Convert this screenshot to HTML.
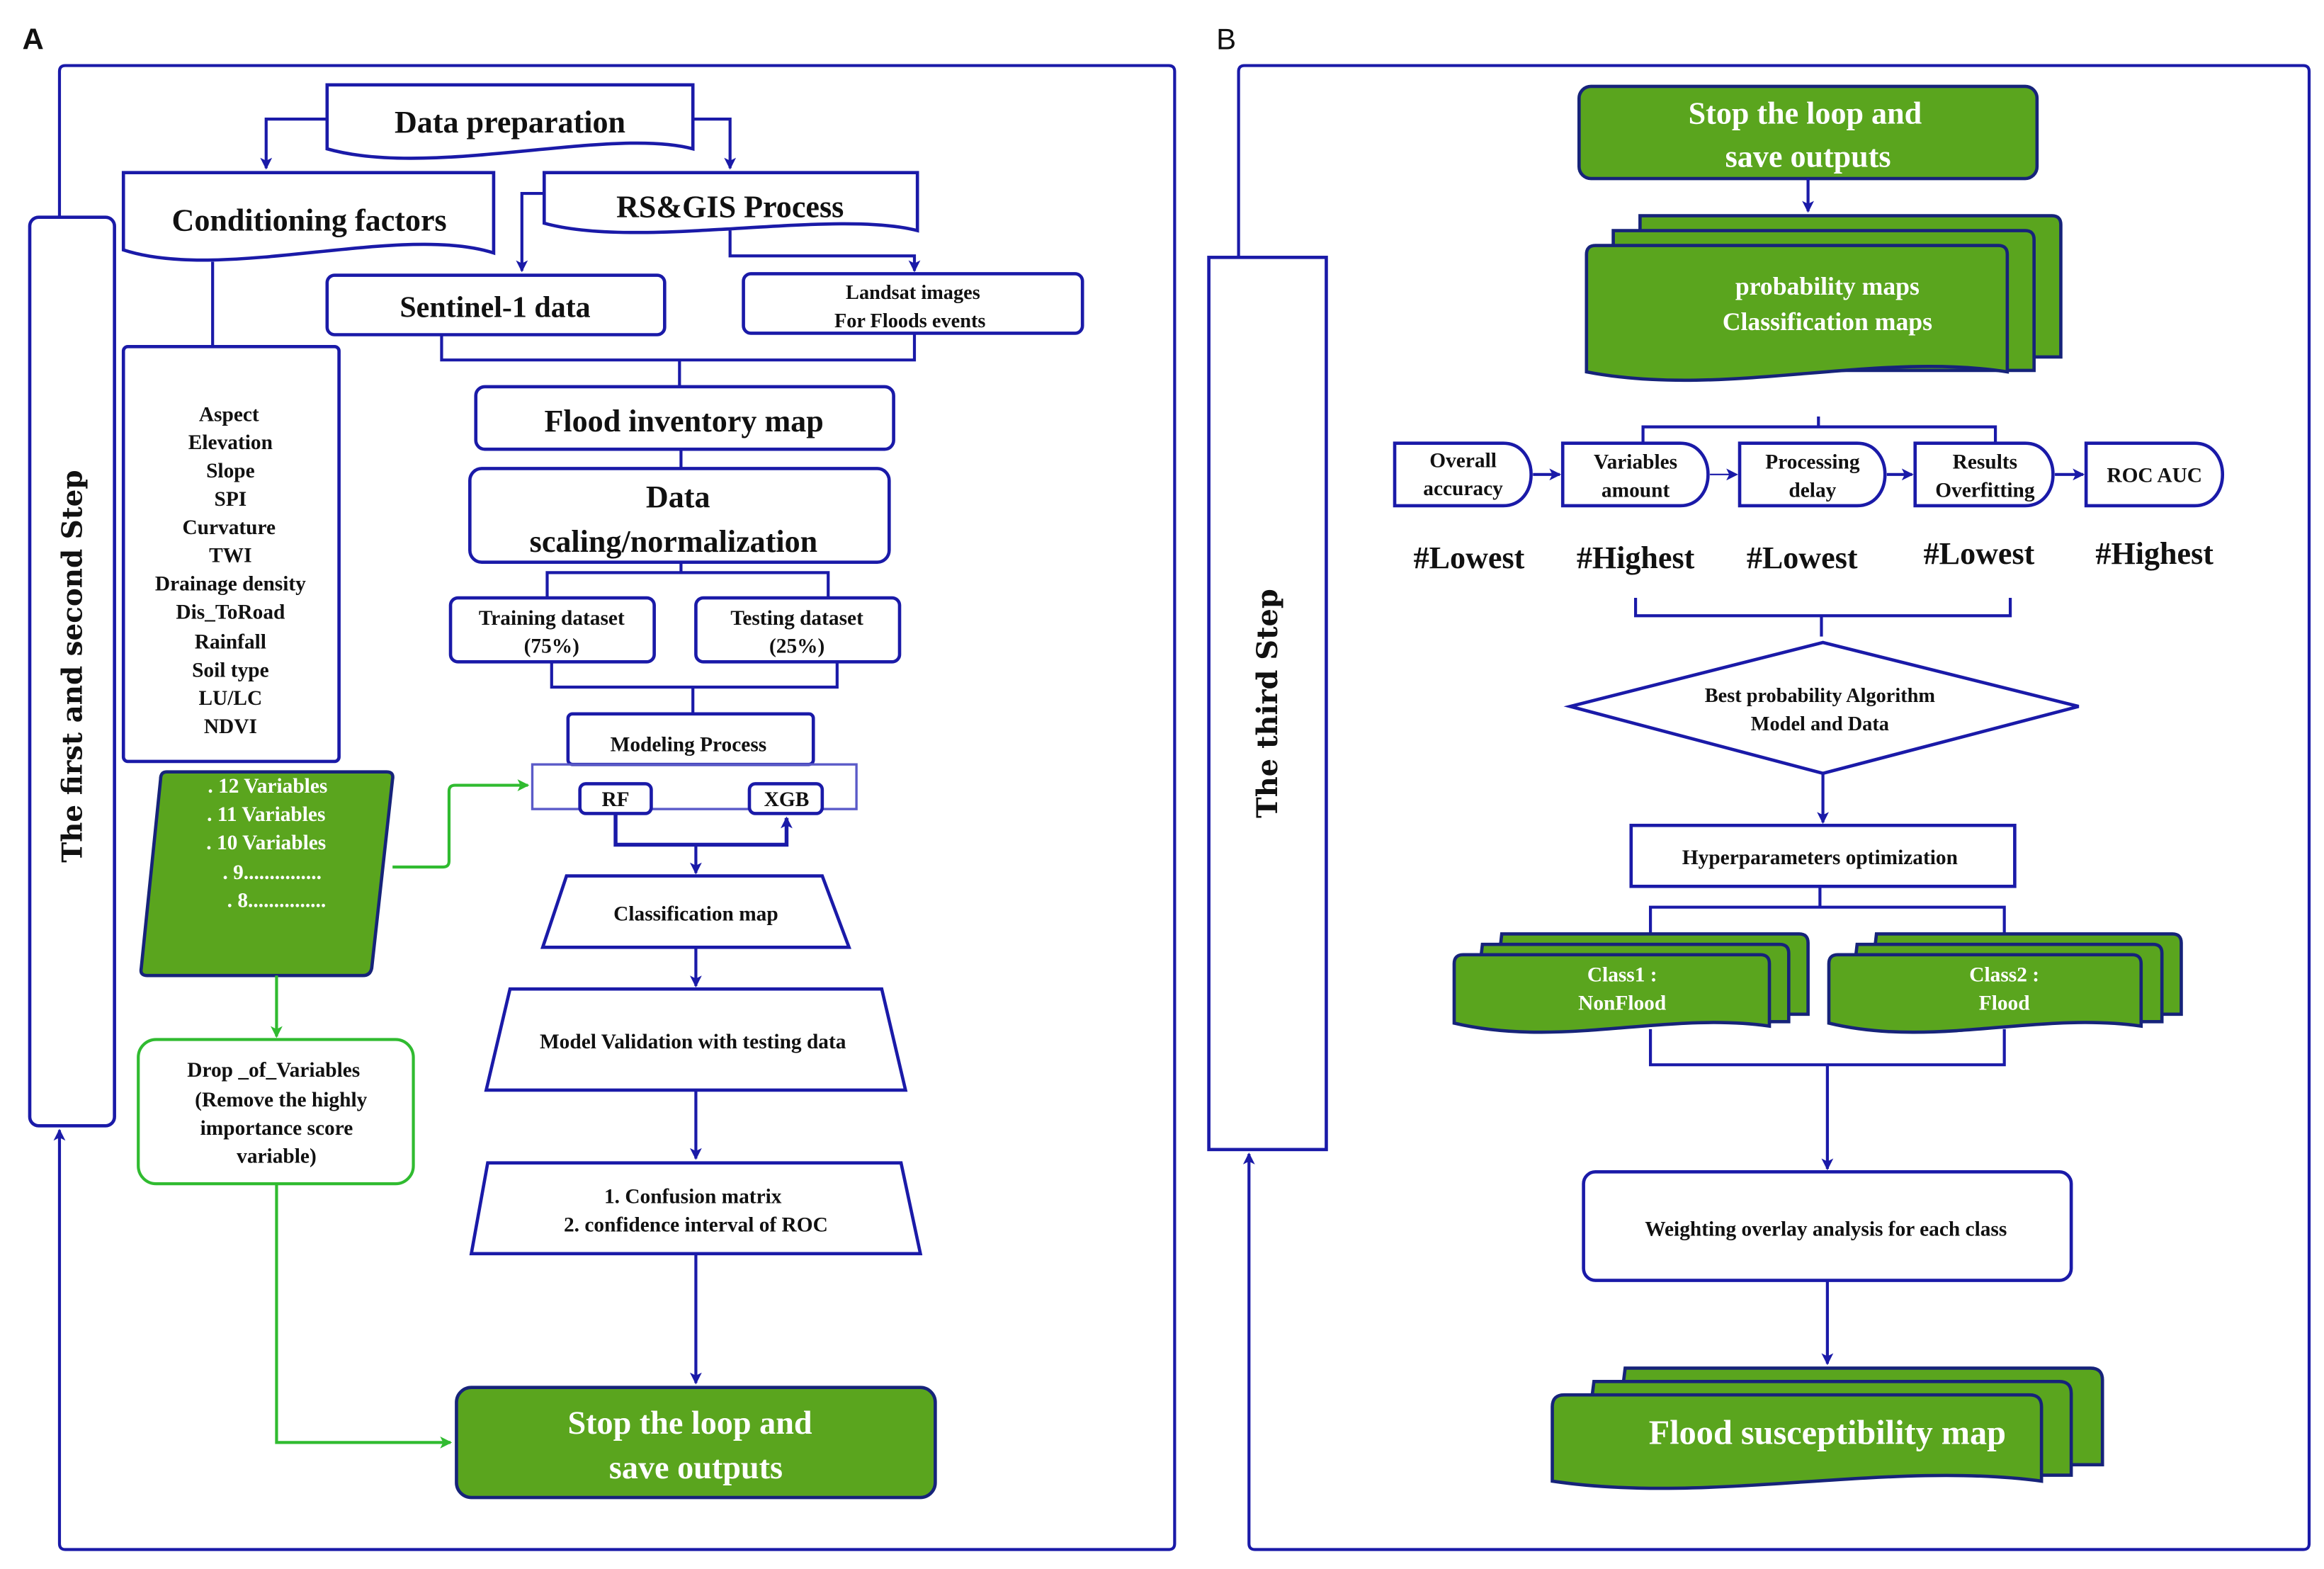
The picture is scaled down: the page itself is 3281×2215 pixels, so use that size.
<!DOCTYPE html>
<html><head><meta charset="utf-8"><style>
html,body{margin:0;padding:0;background:#fff}
svg{display:block}
text{font-family:"Liberation Serif",serif;font-weight:bold;fill:#111;text-anchor:middle}
.w{fill:#fff}
.b{fill:none;stroke:#1a1aa8;stroke-width:2}
.bf{fill:#fff;stroke:#1a1aa8;stroke-width:2.2}
.g{fill:#5aa51e;stroke:#16237a;stroke-width:2.2}
.gl{fill:none;stroke:#30bb30;stroke-width:2}
.s{font-family:"Liberation Sans",sans-serif;font-weight:normal;text-anchor:start}
</style></head><body>
<svg width="3281" height="2215" viewBox="0 0 1563 1055" xmlns="http://www.w3.org/2000/svg">
<defs>
<marker id="ab" markerWidth="8" markerHeight="8" refX="7" refY="4" orient="auto" markerUnits="userSpaceOnUse"><path d="M0,0 L8,4 L0,8 L2,4 Z" fill="#1a1aa8"/></marker>
<marker id="ag" markerWidth="8" markerHeight="8" refX="7" refY="4" orient="auto" markerUnits="userSpaceOnUse"><path d="M0,0 L8,4 L0,8 L2,4 Z" fill="#30bb30"/></marker>
</defs>
<text x="15" y="33" class="s" font-size="20" style="font-weight:bold">A</text>
<text x="818" y="33" class="s" font-size="20">B</text>

<!-- Panel A frame -->
<path class="b" d="M40,145 V48 Q40,44 44,44 H786 Q790,44 790,48 V1038 Q790,1042 786,1042 H44 Q40,1042 40,1038 V760" marker-end="url(#ab)"/>
<rect class="bf" x="20" y="146" width="57" height="611" rx="6"/>
<text transform="translate(55,448) rotate(-90)" font-size="18.5" style="font-family:'DejaVu Serif',serif">The first and second Step</text>

<!-- Data preparation -->
<path class="bf" d="M220,57 H466 V100 C410,85 290,120 220,100 Z"/>
<text x="343" y="89" font-size="21">Data preparation</text>
<path class="b" d="M220,80 H179 V113" marker-end="url(#ab)"/>
<path class="b" d="M466,80 H491 V113" marker-end="url(#ab)"/>
<path class="bf" d="M83,116 H332 V170 C270,150 150,190 83,168 Z"/>
<text x="208" y="155" font-size="21">Conditioning factors</text>
<path class="bf" d="M366,116 H617 V155 C560,140 430,168 366,150 Z"/>
<text x="491" y="146" font-size="21">RS&amp;GIS Process</text>
<path class="b" d="M366,130 H351 V182" marker-end="url(#ab)"/>
<path class="b" d="M491,155 V172 H615 V182" marker-end="url(#ab)"/>
<rect class="bf" x="220" y="185" width="227" height="40" rx="5"/>
<text x="333" y="213" font-size="20">Sentinel-1 data</text>
<rect class="bf" x="500" y="184" width="228" height="40" rx="5"/>
<text x="614" y="201" font-size="13.5">Landsat images</text>
<text x="612" y="220" font-size="13.5">For Floods events</text>
<path class="b" d="M297,225 V242 H615 V224 M457,242 V260"/>
<path class="b" d="M143,176 V233"/>
<rect class="bf" x="83" y="233" width="145" height="279" rx="3"/>
<g font-size="14">
<text x="154" y="283">Aspect</text><text x="155" y="302">Elevation</text><text x="155" y="321">Slope</text><text x="155" y="340">SPI</text><text x="154" y="359">Curvature</text><text x="155" y="378">TWI</text><text x="155" y="397">Drainage density</text><text x="155" y="416">Dis_ToRoad</text><text x="155" y="436">Rainfall</text><text x="155" y="455">Soil type</text><text x="155" y="474">LU/LC</text><text x="155" y="493">NDVI</text>
</g>
<rect class="bf" x="320" y="260" width="281" height="42" rx="6"/>
<text x="460" y="290" font-size="21">Flood inventory map</text>
<path class="b" d="M458,302 V315"/>
<rect class="bf" x="316" y="315" width="282" height="63" rx="8"/>
<text x="456" y="341" font-size="21">Data</text>
<text x="453" y="371" font-size="21">scaling/normalization</text>
<path class="b" d="M458,378 V385 M368,402 V385 H557 V402"/>
<rect class="bf" x="303" y="402" width="137" height="43" rx="5"/>
<text x="371" y="420" font-size="14">Training dataset</text><text x="371" y="439" font-size="14">(75%)</text>
<rect class="bf" x="468" y="402" width="137" height="43" rx="5"/>
<text x="536" y="420" font-size="14">Testing dataset</text><text x="536" y="439" font-size="14">(25%)</text>
<path class="b" d="M371,445 V462 H563 V445 M466,462 V480"/>
<rect class="bf" x="382" y="480" width="165" height="34" rx="3"/>
<text x="463" y="505" font-size="14">Modeling Process</text>
<rect x="358" y="514" width="218" height="30" fill="none" stroke="#5a5ac8" stroke-width="1.6"/>
<rect class="bf" x="390" y="527" width="48" height="20" rx="4"/>
<text x="414" y="542" font-size="14">RF</text>
<rect class="bf" x="504" y="527" width="49" height="20" rx="4"/>
<text x="529" y="542" font-size="14">XGB</text>
<path class="b" style="stroke-width:2.6" d="M414,547 V568 H529 V550" marker-end="url(#ab)"/>
<path class="b" d="M468,568 V587" marker-end="url(#ab)"/>
<path class="bf" d="M381,589 H553 L571,637 H365 Z"/>
<text x="468" y="619" font-size="14">Classification map</text>
<path class="b" d="M468,637 V663" marker-end="url(#ab)"/>
<path class="bf" d="M343,665 H593 L609,733 H327 Z"/>
<text x="466" y="705" font-size="14">Model Validation with testing data</text>
<path class="b" d="M468,733 V779" marker-end="url(#ab)"/>
<path class="bf" d="M328,782 H606 L619,843 H317 Z"/>
<text x="466" y="809" font-size="14">1. Confusion matrix</text>
<text x="468" y="828" font-size="14">2. confidence interval of ROC</text>
<path class="b" d="M468,843 V930" marker-end="url(#ab)"/>
<rect class="g" x="307" y="933" width="322" height="74" rx="10"/>
<text class="w" x="464" y="964" font-size="22">Stop the loop and</text>
<text class="w" x="468" y="994" font-size="22">save outputs</text>

<path class="g" d="M112,519 H260 Q265,519 264,524 L250,651 Q249,656 244,656 H99 Q94,656 95,651 L108,524 Q108,519 112,519 Z"/>
<g font-size="14">
<text class="w" x="180" y="533">. 12 Variables</text>
<text class="w" x="179" y="552">. 11 Variables</text>
<text class="w" x="179" y="571">. 10 Variables</text>
<text class="w" x="183" y="591">.    9...............</text>
<text class="w" x="186" y="610">.    8...............</text>
</g>
<path class="gl" d="M264,583 H298 Q302,583 302,579 V532 Q302,528 306,528 H355" marker-end="url(#ag)"/>
<path class="gl" d="M186,656 V697" marker-end="url(#ag)"/>
<rect x="93" y="699" width="185" height="97" rx="12" fill="#fff" stroke="#30bb30" stroke-width="2"/>
<g font-size="14"><text x="184" y="724">Drop _of_Variables</text><text x="189" y="744">(Remove the highly</text><text x="186" y="763">importance score</text><text x="186" y="782">variable)</text></g>
<path class="gl" d="M186,796 V970 H303" marker-end="url(#ag)"/>

<!-- Panel B frame -->
<path class="b" d="M833,173 V48 Q833,44 837,44 H1549 Q1553,44 1553,48 V1038 Q1553,1042 1549,1042 H844 Q840,1042 840,1038 V776" marker-end="url(#ab)"/>
<rect class="bf" x="813" y="173" width="79" height="600"/>
<text transform="translate(859,473) rotate(-90)" font-size="19" style="font-family:'DejaVu Serif',serif">The third Step</text>

<rect class="g" x="1062" y="58" width="308" height="62" rx="8"/>
<text class="w" x="1214" y="83" font-size="21">Stop the loop and</text>
<text class="w" x="1216" y="112" font-size="21">save outputs</text>
<path class="b" d="M1216,120 V142" marker-end="url(#ab)"/>
<path class="g" d="M1103,145 H1380 Q1386,145 1386,151 V240 H1103 Z"/>
<path class="g" d="M1085,155 H1362 Q1368,155 1368,161 V249 H1085 Z"/>
<path class="g" d="M1073,165 H1344 Q1350,165 1350,171 V250 C1260,236 1160,268 1067,250 V171 Q1067,165 1073,165 Z"/>
<text class="w" x="1229" y="198" font-size="17">probability maps</text>
<text class="w" x="1229" y="222" font-size="17">Classification maps</text>

<path class="b" d="M1105,298 V287 H1342 V298 M1223,287 V280"/>
<g font-size="14">
<path class="bf" d="M938,298 H1011 C1036,298 1036,340 1011,340 H938 Z"/>
<text x="984" y="314">Overall</text><text x="984" y="333">accuracy</text>
<path class="b" d="M1031,319 H1049" marker-end="url(#ab)"/>
<path class="bf" d="M1051,298 H1130 C1155,298 1155,340 1130,340 H1051 Z"/>
<text x="1100" y="315">Variables</text><text x="1100" y="334">amount</text>
<path class="b" style="stroke-width:1" d="M1150,319 H1168" marker-end="url(#ab)"/>
<path class="bf" d="M1170,298 H1249 C1274,298 1274,340 1249,340 H1170 Z"/>
<text x="1219" y="315">Processing</text><text x="1219" y="334">delay</text>
<path class="b" d="M1269,319 H1286" marker-end="url(#ab)"/>
<path class="bf" d="M1288,298 H1362 C1387,298 1387,340 1362,340 H1288 Z"/>
<text x="1335" y="315">Results</text><text x="1335" y="334">Overfitting</text>
<path class="b" d="M1382,319 H1401" marker-end="url(#ab)"/>
<path class="bf" d="M1403,298 H1476 C1501,298 1501,340 1476,340 H1403 Z"/>
<text x="1449" y="324">ROC AUC</text>
</g>
<g font-size="21">
<text x="988" y="382">#Lowest</text><text x="1100" y="382">#Highest</text><text x="1212" y="382">#Lowest</text><text x="1331" y="379">#Lowest</text><text x="1449" y="379">#Highest</text>
</g>
<path class="b" d="M1100,402 V414 H1352 V402 M1225,414 V428"/>
<path class="bf" d="M1226,432 L1398,475 L1226,520 L1056,475 Z"/>
<text x="1224" y="472" font-size="13.5">Best probability Algorithm</text>
<text x="1224" y="491" font-size="13.5">Model and Data</text>
<path class="b" d="M1226,520 V553" marker-end="url(#ab)"/>
<rect class="bf" x="1097" y="555" width="258" height="41"/>
<text x="1224" y="581" font-size="14">Hyperparameters optimization</text>
<path class="b" d="M1224,596 V610 M1110,630 V610 H1348 V630"/>
<path class="g" d="M1010,628 H1210 Q1216,628 1216,634 V682 H1004 Z"/>
<path class="g" d="M997,635 H1197 Q1203,635 1203,641 V687 H991 Z"/>
<path class="g" d="M984,642 H1184 Q1190,642 1190,648 V690 C1120,680 1050,705 978,688 V648 Q978,642 984,642 Z"/>
<text class="w" x="1091" y="660" font-size="14">Class1 :</text><text class="w" x="1091" y="679" font-size="14">NonFlood</text>
<path class="g" d="M1262,628 H1461 Q1467,628 1467,634 V682 H1256 Z"/>
<path class="g" d="M1249,635 H1448 Q1454,635 1454,641 V687 H1243 Z"/>
<path class="g" d="M1236,642 H1434 Q1440,642 1440,648 V690 C1370,680 1300,705 1230,688 V648 Q1230,642 1236,642 Z"/>
<text class="w" x="1348" y="660" font-size="14">Class2 :</text><text class="w" x="1348" y="679" font-size="14">Flood</text>
<path class="b" d="M1110,692 V716 H1348 V692"/>
<path class="b" d="M1229,716 V786" marker-end="url(#ab)"/>
<rect class="bf" x="1065" y="788" width="328" height="73" rx="8"/>
<text x="1228" y="831" font-size="14">Weighting overlay analysis for each class</text>
<path class="b" d="M1229,861 V917" marker-end="url(#ab)"/>
<path class="g" d="M1093,920 H1406 Q1414,920 1414,928 V985 H1085 Z"/>
<path class="g" d="M1072,929 H1385 Q1393,929 1393,937 V992 H1064 Z"/>
<path class="g" d="M1052,938 H1365 Q1373,938 1373,946 V996 C1270,982 1150,1012 1044,996 V946 Q1044,938 1052,938 Z"/>
<text class="w" x="1229" y="971" font-size="23">Flood susceptibility map</text>
</svg>
</body></html>
